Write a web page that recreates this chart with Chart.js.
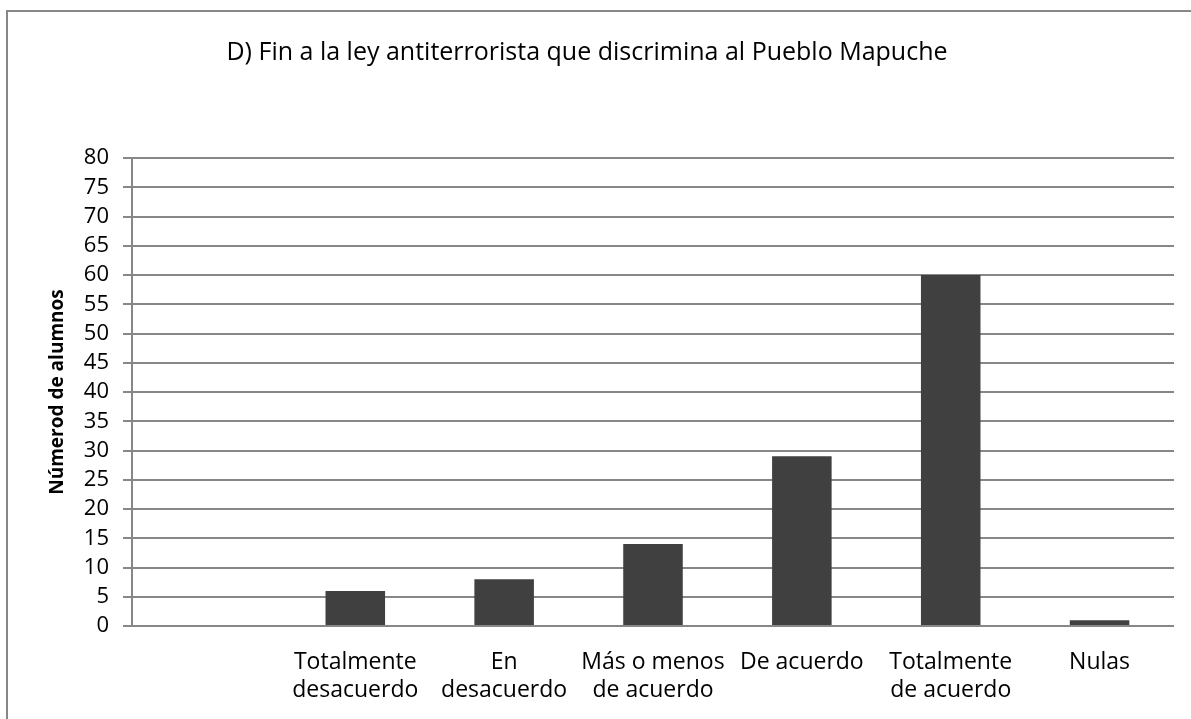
<!DOCTYPE html>
<html>
<head>
<meta charset="utf-8">
<script src="https://cdn.jsdelivr.net/npm/chart.js@4"></script>
<style>
    body { margin: 0; background: #ffffff; }
    #wrap { width: 1191px; height: 719px; }
</style>
</head>
<body>
<div id="wrap"><canvas id="surveyChart" width="1191" height="719"></canvas></div>
<script>
// Respuestas de la pregunta D
const categories = [
    "",
    ["Totalmente", "desacuerdo"],
    ["En", "desacuerdo"],
    ["Más o menos", "de acuerdo"],
    "De acuerdo",
    ["Totalmente", "de acuerdo"],
    "Nulas",
];
const alumnos = [null, 6, 8, 14, 29, 60, 1];
const yTicks = [0, 5, 10, 15, 20, 25, 30, 35, 40, 45, 50, 55, 60, 65, 70, 75, 80];

const chartTitle = "D) Fin a la ley antiterrorista que discrimina al Pueblo Mapuche";
const yTitle = "Númerod de alumnos";

const FONT = "'Open Sans', sans-serif";
const GRID = "#878787";

// white background and the outer frame of the chart
const framePlugin = {
    id: "frame",
    beforeDraw(chart) {
        const ctx = chart.ctx;
        ctx.save();
        ctx.fillStyle = "#ffffff";
        ctx.fillRect(0, 0, chart.width, chart.height);
        ctx.strokeStyle = GRID;
        ctx.lineWidth = 2;
        ctx.strokeRect(7, 11, chart.width + 20, chart.height + 20);
        ctx.restore();
    },
};

const ctx = document.getElementById("surveyChart").getContext("2d");
new Chart(ctx, {
    type: "bar",
    data: {
        labels: categories,
        datasets: [
            {
                label: yTitle,
                data: alumnos,
                backgroundColor: "#404040",
                borderWidth: 0,
                categoryPercentage: 1.0,
                barPercentage: 0.4,
            },
        ],
    },
    options: {
        responsive: false,
        animation: false,
        layout: {
            padding: { top: 0, left: 0, right: 17, bottom: 0 },
        },
        plugins: {
            legend: { display: false },
            tooltip: { enabled: false },
            title: {
                display: true,
                text: chartTitle,
                color: "#000000",
                font: { family: FONT, size: 25, weight: "normal", lineHeight: 1.2 },
                padding: { top: 38, bottom: 90 },
            },
        },
        scales: {
            x: {
                grid: { display: false, drawTicks: false },
                border: { display: false },
                ticks: {
                    color: "#000000",
                    font: { family: FONT, size: 23, lineHeight: 1.23 },
                    padding: 22,
                    maxRotation: 0,
                    autoSkip: false,
                },
                afterFit(scale) {
                    scale.height = 93;
                },
            },
            y: {
                min: 0,
                max: 80,
                afterBuildTicks(scale) {
                    scale.ticks = yTicks.map((v) => ({ value: v }));
                },
                grid: {
                    color: GRID,
                    lineWidth: 2,
                    tickLength: 9,
                    tickColor: GRID,
                },
                border: { display: true, color: GRID, width: 2 },
                ticks: {
                    color: "#000000",
                    font: { family: FONT, size: 22 },
                    padding: 14,
                    autoSkip: false,
                },
                title: {
                    display: true,
                    text: yTitle,
                    color: "#000000",
                    font: { family: FONT, size: 19, weight: "bold" },
                    padding: { top: 46, bottom: 0 },
                },
                afterFit(scale) {
                    scale.width = 132;
                },
            },
        },
    },
    plugins: [framePlugin],
});
</script>
</body>
</html>
